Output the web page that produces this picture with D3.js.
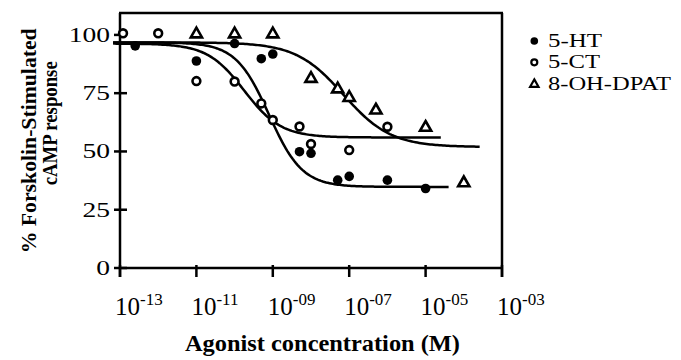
<!DOCTYPE html>
<html>
<head>
<meta charset="utf-8">
<script src="https://cdn.jsdelivr.net/npm/d3@7"></script>
<style>
body { margin: 0; background: #fff; }
text { font-family: "Liberation Serif", "Times New Roman", Times, serif; fill: #000; }
</style>
</head>
<body>
<svg id="chart" width="681" height="360"></svg>
<script>
// Agonist concentrations (M) and % forskolin-stimulated cAMP response
var conc5HT = [2.5e-13, 1e-11, 1e-10, 5e-10, 1e-9, 5e-9, 1e-8, 5e-8, 1e-7, 1e-6, 1e-5];
var resp5HT = [95.3, 88.8, 96.3, 89.8, 91.8, 49.9, 49.2, 37.7, 39.3, 37.7, 34.1];

var conc5CT = [1.2e-13, 1e-12, 1e-11, 1e-10, 5e-10, 1e-9, 5e-9, 1e-8, 1e-7, 1e-6];
var resp5CT = [100.7, 100.7, 80.2, 80, 70.6, 63.5, 60.7, 53.2, 50.6, 60.6];

var concDPAT = [1e-11, 1e-10, 1e-9, 1e-8, 5e-8, 1e-7, 5e-7, 1e-5, 1e-4];
var respDPAT = [100.5, 100.5, 100.5, 81.4, 76.9, 73.2, 67.8, 60.4, 36.6];

// Fitted sigmoid curves (5-HT, 5-CT, 8-OH-DPAT)
var fitTop = [96.8, 96.3, 96.8];
var fitBottom = [34.8, 56, 51.9];
var fitLogEC50 = [-9.1, -9.75, -7.15];
var fitHill = [1.0, 0.9, 0.7];
var fitStart = [6.6e-14, 6.6e-14, 6.6e-14];
var fitEnd = [4e-5, 2.5e-5, 2.6e-4];

// Axes
var xTicks = [1e-13, 1e-11, 1e-9, 1e-7, 1e-5, 1e-3];
var xTickExp = ["-13", "-11", "-09", "-07", "-05", "-03"];
var yTicks = [0, 25, 50, 75, 100];

var legendNames = ["5-HT", "5-CT", "8-OH-DPAT"];
var legendLengths = [54, 52, 123];

var svg = d3.select("#chart");

var x = d3.scaleLog().domain([1e-13, 1e-3]).range([120, 502]);
var y = d3.scaleLinear().domain([0, 109.4]).range([268, 13]);

var lineW = 2.5;

// Frame
var frame = svg.append("g")
    .attr("stroke", "#000")
    .attr("stroke-width", lineW)
    .attr("fill", "none");
frame.append("line").attr("x1", x(1e-13)).attr("x2", x(1e-13)).attr("y1", y.range()[1]).attr("y2", y(0) + 9);
frame.append("line").attr("x1", x(1e-3)).attr("x2", x(1e-3)).attr("y1", y.range()[1]).attr("y2", y(0) + 9);
frame.append("line").attr("x1", x(1e-13)).attr("x2", x(1e-3)).attr("y1", y(0)).attr("y2", y(0));
frame.append("line").attr("x1", x(1e-13) - 1).attr("x2", x(1e-3) + 1).attr("y1", y.range()[1]).attr("y2", y.range()[1]);

// X ticks
xTicks.forEach(function(t, i)
{
    frame.append("line")
        .attr("x1", x(t)).attr("x2", x(t))
        .attr("y1", y(0) - 3).attr("y2", y(0) + 9);

    var label = svg.append("text")
        .attr("x", x(t) - 5)
        .attr("y", 315)
        .attr("font-size", 25);
    label.append("tspan").text("10");
    label.append("tspan")
        .attr("font-size", 17)
        .attr("dy", -10)
        .text(xTickExp[i]);
});

// Y ticks
yTicks.forEach(function(t)
{
    frame.append("line")
        .attr("x1", x(1e-13) - 6).attr("x2", x(1e-13) + 7)
        .attr("y1", y(t)).attr("y2", y(t));

    svg.append("g")
        .attr("transform", "translate(110," + (y(t) + 7) + ") scale(1.28,1)")
        .append("text")
        .attr("text-anchor", "end")
        .attr("font-size", 21.5)
        .text(t);
});

// Axis titles
svg.append("text")
    .attr("transform", "translate(35.7,140.8) rotate(-90)")
    .attr("text-anchor", "middle")
    .attr("font-size", 21.5)
    .attr("font-weight", "bold")
    .attr("textLength", 225)
    .attr("lengthAdjust", "spacingAndGlyphs")
    .text("% Forskolin-Stimulated");

svg.append("text")
    .attr("transform", "translate(56.7,123.3) rotate(-90)")
    .attr("text-anchor", "middle")
    .attr("font-size", 21.5)
    .attr("font-weight", "bold")
    .attr("textLength", 124)
    .attr("lengthAdjust", "spacingAndGlyphs")
    .text("cAMP response");

svg.append("text")
    .attr("x", 322.5)
    .attr("y", 351)
    .attr("text-anchor", "middle")
    .attr("font-size", 24)
    .attr("font-weight", "bold")
    .attr("textLength", 275)
    .attr("lengthAdjust", "spacingAndGlyphs")
    .text("Agonist concentration (M)");

// Fitted curves
var line = d3.line()
    .x(function(d) { return x(d[0]); })
    .y(function(d) { return y(d[1]); });

for (var k = 0; k < fitTop.length; ++k)
{
    var pts = [];
    var a = Math.log10(fitStart[k]);
    var b = Math.log10(fitEnd[k]);
    for (var i = 0; i <= 200; ++i)
    {
        var lc = a + (b - a) * i / 200;
        var v = fitBottom[k] + (fitTop[k] - fitBottom[k]) / (1 + Math.pow(10, fitHill[k] * (lc - fitLogEC50[k])));
        pts.push([Math.pow(10, lc), v]);
    }
    svg.append("path")
        .attr("d", line(pts))
        .attr("fill", "none")
        .attr("stroke", "#000")
        .attr("stroke-width", lineW);
}

// Markers
var triPath = "M0,-6.2 L5.6,3.6 L-5.6,3.6 Z";
var triSmall = "M0,-4.6 L4.2,2.8 L-4.2,2.8 Z";

svg.append("g").selectAll("path")
    .data(d3.zip(concDPAT, respDPAT))
    .join("path")
    .attr("d", triPath)
    .attr("transform", function(d) { return "translate(" + x(d[0]) + "," + y(d[1]) + ")"; })
    .attr("fill", "#fff")
    .attr("stroke", "#000")
    .attr("stroke-width", 2.6)
    .attr("stroke-linejoin", "miter");

svg.append("g").selectAll("circle")
    .data(d3.zip(conc5HT, resp5HT))
    .join("circle")
    .attr("cx", function(d) { return x(d[0]); })
    .attr("cy", function(d) { return y(d[1]); })
    .attr("r", 4.8)
    .attr("fill", "#000");

svg.append("g").selectAll("circle")
    .data(d3.zip(conc5CT, resp5CT))
    .join("circle")
    .attr("cx", function(d) { return x(d[0]); })
    .attr("cy", function(d) { return y(d[1]); })
    .attr("r", 3.9)
    .attr("fill", "#fff")
    .attr("stroke", "#000")
    .attr("stroke-width", 2.6);

// Legend
var legendY = [41, 62.3, 84];
var lg = svg.append("g");
lg.append("circle").attr("cx", 534.3).attr("cy", legendY[0]).attr("r", 3.8).attr("fill", "#000");
lg.append("circle").attr("cx", 534.3).attr("cy", legendY[1]).attr("r", 3)
    .attr("fill", "#fff").attr("stroke", "#000").attr("stroke-width", 2.2);
lg.append("path").attr("d", triSmall)
    .attr("transform", "translate(534.3," + legendY[2] + ")")
    .attr("fill", "#fff").attr("stroke", "#000").attr("stroke-width", 2.2);

legendNames.forEach(function(n, i)
{
    lg.append("text")
        .attr("x", 548)
        .attr("y", legendY[i] + 5.6)
        .attr("font-size", 19.5)
        .attr("textLength", legendLengths[i])
        .attr("lengthAdjust", "spacingAndGlyphs")
        .text(n);
});
</script>
</body>
</html>
